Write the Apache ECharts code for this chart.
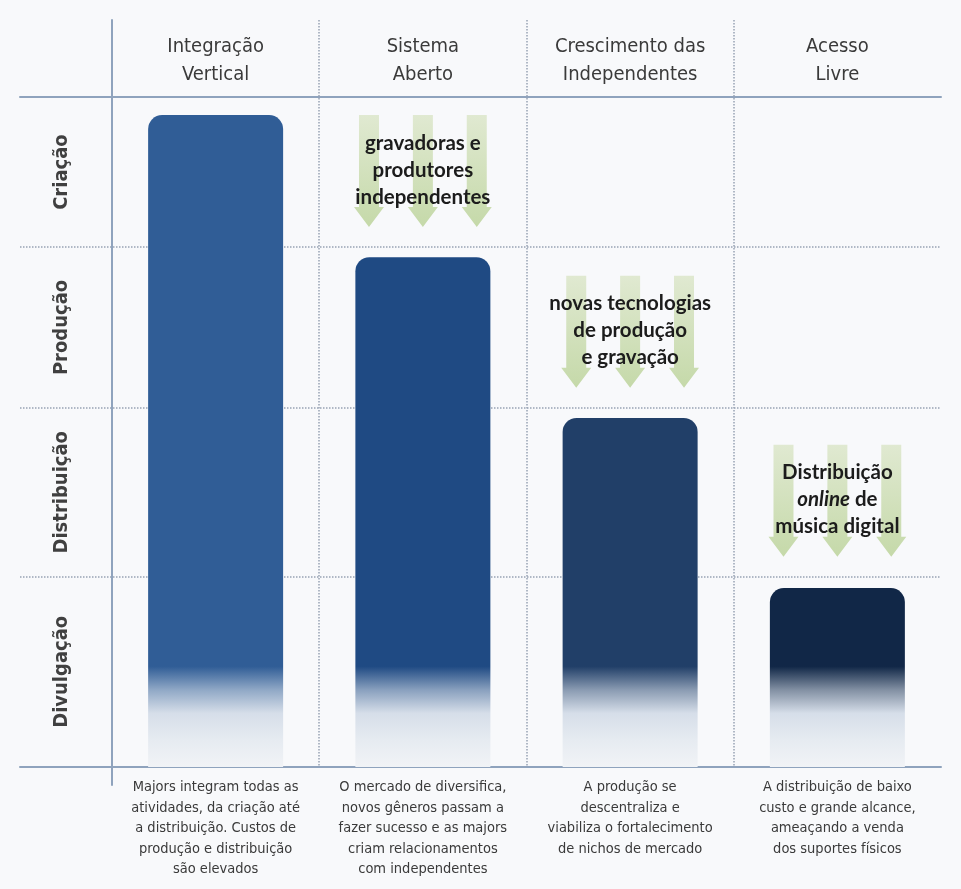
<!DOCTYPE html>
<html><head><meta charset="utf-8">
<script src="https://cdn.jsdelivr.net/npm/echarts@6/dist/echarts.min.js"></script>
<style>html,body{margin:0;padding:0;background:#f8f9fb}#c{width:961px;height:889px}</style>
</head><body><div id="c"></div><script>
// ---- data ----
const stageNames = ['Integração\nVertical', 'Sistema\nAberto', 'Crescimento das\nIndependentes', 'Acesso\nLivre'];
const stageDescriptions = [
  'Majors integram todas as\natividades, da criação até\na distribuição. Custos de\nprodução e distribuição\nsão elevados',
  'O mercado de diversifica,\nnovos gêneros passam a\nfazer sucesso e as majors\ncriam relacionamentos\ncom independentes',
  'A produção se\ndescentraliza e\nviabiliza o fortalecimento\nde nichos de mercado',
  'A distribuição de baixo\ncusto e grande alcance,\nameaçando a venda\ndos suportes físicos'
];
const activityNames = ['Divulgação', 'Distribuição', 'Produção', 'Criação']; // bottom -> top
const activityBounds = [0, 28.4, 53.6, 77.6, 100];
const barValues = [97.3, 76.1, 52.1, 26.7];
const annotationStage = [1, 2, 3];
const annotationActivity = [3, 2, 1];
const annotationTexts = ['gravadoras e\nprodutores\nindependentes', 'novas tecnologias\nde produção\ne gravação', 'Distribuição\n*online* de\nmúsica digital'];

// ---- styling ----
const barColors = ['#305d96', '#1f4a83', '#213f68', '#112747'];
const X_MIN = -0.4439, X_MAX = 4;
const Y_MIN = -2.7, Y_MAX = 111.5;
const GRID_TOP = 20, GRID_BOTTOM = 104, GRID_H = 889 - GRID_TOP - GRID_BOTTOM;
const PX_PER_UNIT = GRID_H / (Y_MAX - Y_MIN);
const NARROW = '"Liberation Sans Narrow", "DejaVu Sans Condensed", "Liberation Sans", sans-serif';
const SOLID = '#8fa3bd', DOT = '#97a3b4';

function hex(c) { return [1, 3, 5].map(i => parseInt(c.slice(i, i + 2), 16)); }
function mix(a, b, t) {
  const A = hex(a), B = hex(b);
  return 'rgb(' + A.map((v, i) => Math.round(v + (B[i] - v) * t)).join(',') + ')';
}
function barGradient(color, value) {
  const s = v => Math.max(0, Math.min(1, 1 - v / value));
  return new echarts.graphic.LinearGradient(0, 0, 0, 1, [
    { offset: 0, color: color },
    { offset: s(15), color: color },
    { offset: s(11.5), color: mix(color, '#dfe6ee', 0.55) },
    { offset: s(8), color: '#d6dee9' },
    { offset: s(4), color: '#e6ebf1' },
    { offset: 1, color: '#f1f3f6' }
  ]);
}
const activityCenters = activityNames.map((_, i) => (activityBounds[i] + activityBounds[i + 1]) / 2);
const stageCenters = stageNames.map((_, i) => i + 0.5);
function nearest(list, v) {
  let best = 0;
  list.forEach((c, i) => { if (Math.abs(c - v) < Math.abs(list[best] - v)) best = i; });
  return best;
}

const chart = echarts.init(document.getElementById('c'), null, { renderer: 'canvas' });
chart.setOption({
  backgroundColor: '#f8f9fb',
  animation: false,
  grid: { left: 20, right: 20, top: GRID_TOP, bottom: GRID_BOTTOM, containLabel: false, outerBoundsMode: 'none' },
  xAxis: [
    {
      type: 'value', position: 'bottom', min: X_MIN, max: X_MAX,
      axisLine: { show: true, onZero: true, lineStyle: { color: SOLID, width: 2 } },
      axisTick: { show: false }, splitLine: { show: false },
      axisLabel: {
        customValues: stageCenters,
        formatter: v => stageDescriptions[nearest(stageCenters, v)],
        fontFamily: NARROW, fontSize: 14.5, lineHeight: 20.5, color: '#3a3a3a', margin: -8
      }
    },
    {
      type: 'value', position: 'top', min: X_MIN, max: X_MAX,
      offset: -(Y_MAX - 100) * PX_PER_UNIT,
      axisLine: { show: true, onZero: false, lineStyle: { color: SOLID, width: 2 } },
      axisTick: { show: false }, splitLine: { show: false },
      axisLabel: {
        customValues: stageCenters,
        formatter: v => stageNames[nearest(stageCenters, v)],
        fontFamily: NARROW, fontSize: 20, lineHeight: 28, color: '#3a3a3a', margin: 8
      }
    }
  ],
  yAxis: [
    {
      type: 'value', min: Y_MIN, max: Y_MAX,
      axisLine: { show: true, onZero: true, lineStyle: { color: SOLID, width: 2 } },
      axisTick: { show: false, customValues: activityBounds.slice(1, -1) },
      splitLine: { show: true, lineStyle: { type: 'dotted', color: DOT, width: 1.5 } },
      axisLabel: { show: false }
    },
    {
      type: 'value', min: Y_MIN, max: Y_MAX, position: 'left',
      axisLine: { show: false, onZero: false },
      axisTick: { show: false }, splitLine: { show: false },
      axisLabel: {
        inside: true,
        customValues: activityCenters,
        formatter: v => activityNames[nearest(activityCenters, v)],
        rotate: 90, margin: 32, fontFamily: NARROW, fontSize: 20, fontWeight: 'bold', color: '#404040'
      }
    }
  ],
  series: [
    {
      type: 'bar', xAxisIndex: 0, yAxisIndex: 0, barWidth: 135,
      data: barValues.map((v, i) => ({
        value: [i + 0.5, v],
        itemStyle: { color: barGradient(barColors[i], v), borderRadius: [14, 14, 0, 0] }
      })),
      markLine: {
        silent: true, symbol: 'none', animation: false,
        label: { show: false },
        lineStyle: { type: 'dotted', color: DOT, width: 1.5 },
        data: [1, 2, 3].map(b => [{ coord: [b, Y_MAX] }, { coord: [b, 0] }])
      }
    },
    {
      type: 'custom', xAxisIndex: 0, yAxisIndex: 0, z: 5,
      data: annotationStage.map((s, i) => [s, annotationActivity[i], i]),
      renderItem: function (params, api) {
        const s = api.value(0), a = api.value(1), i = api.value(2);
        const cx = api.coord([s + 0.5, 0])[0];
        const bottom = api.coord([s + 0.5, activityBounds[a]])[1] - 20;
        const top = bottom - 112;
        const spread = api.size([1, 0])[0] * 0.26;
        const fill = new echarts.graphic.LinearGradient(0, 0, 0, 1, [
          { offset: 0, color: '#e0e9d1' }, { offset: 1, color: '#c5d9a9' }]);
        const children = [-1, 0, 1].map(k => {
          const x = cx + k * spread;
          const hw = 10, hh = 15, headH = 20;
          return {
            type: 'polygon',
            shape: { points: [[x - hw, top], [x + hw, top], [x + hw, bottom - headH], [x + hh, bottom - headH], [x, bottom], [x - hh, bottom - headH], [x - hw, bottom - headH]] },
            style: { fill: fill }
          };
        });
        const txt = annotationTexts[i].split('\n').map(l => l.replace(/\*(.+?)\*/g, '{i|$1}')).join('\n');
        children.push({
          type: 'text',
          x: cx, y: (top + bottom) / 2 - 1,
          style: {
            text: txt, textAlign: 'center', textVerticalAlign: 'middle',
            fill: '#1c1c1c', fontFamily: 'Lato, "Noto Sans", sans-serif', fontSize: 20.5, fontWeight: 'bold', lineHeight: 27,
            rich: { i: { fontStyle: 'italic', fontWeight: 'bold', fontFamily: 'Lato, "Noto Sans", sans-serif', fontSize: 20.5, lineHeight: 27, fill: '#1c1c1c' } }
          }
        });
        return { type: 'group', children: children };
      }
    }
  ]
});
</script></body></html>
